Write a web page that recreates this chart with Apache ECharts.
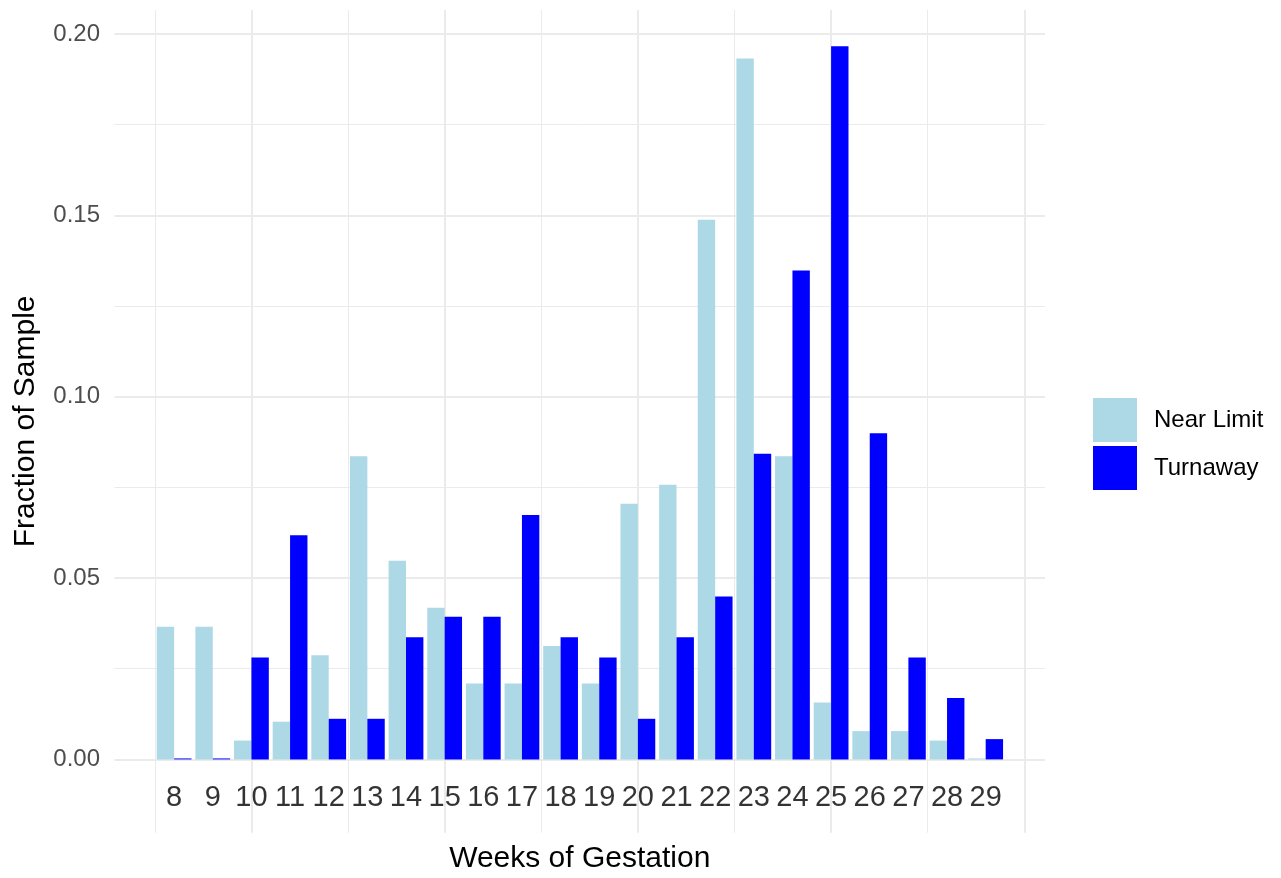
<!DOCTYPE html>
<html>
<head>
<meta charset="utf-8">
<title>Weeks of Gestation</title>
<script src="https://cdn.jsdelivr.net/npm/echarts@6.0.0/dist/echarts.min.js"></script>
<style>
  html, body { margin: 0; padding: 0; background: #fff; }
  #myChart { width: 1281px; height: 878px; }
</style>
</head>
<body>
<div id="myChart"></div>
<script>
// weeks of gestation and fraction of each sample
var weeks = [8, 9, 10, 11, 12, 13, 14, 15, 16, 17, 18, 19, 20, 21, 22, 23, 24, 25, 26, 27, 28, 29];
var nearLimit = [0.0366, 0.0366, 0.0052, 0.0104, 0.0287, 0.0836, 0.0548, 0.0418, 0.0209, 0.0209, 0.0313,
                 0.0209, 0.0705, 0.0757, 0.1488, 0.1932, 0.0836, 0.0157, 0.0078, 0.0078, 0.0052, 0];
var turnaway = [0, 0, 0.0281, 0.0618, 0.0112, 0.0112, 0.0337, 0.0393, 0.0393, 0.0674, 0.0337,
                0.0281, 0.0112, 0.0337, 0.0449, 0.0843, 0.1348, 0.1966, 0.0899, 0.0281, 0.0169, 0.0056];
var seriesNames = ['Near Limit', 'Turnaway'];

var font = 'Liberation Sans, Arial, sans-serif';
var labelY = -0.0105; // week numbers sit just under the zero line
var gridColor = '#ebebeb';

function pairs(values) {
    return weeks.map(function(w, i) { return [w, values[i]]; });
}

function drawChart() {
    var myChart = echarts.init(document.getElementById('myChart'));
    var option = {
        animation: false,
        backgroundColor: '#fff',
        textStyle: { fontFamily: font },
        grid: {
            left: 114.5,
            right: 236,
            top: 10,
            bottom: 45.3,
            outerBoundsMode: 'none'
        },
        legend: {
            data: seriesNames,
            orient: 'vertical',
            left: 1093,
            top: 398,
            padding: 0,
            itemWidth: 44,
            itemHeight: 44,
            itemGap: 4,
            icon: 'rect',
            selectedMode: false,
            textStyle: { fontSize: 24, color: '#000', fontFamily: font, padding: [0, 0, 0, 12] }
        },
        xAxis: {
            type: 'value',
            min: 6.457,
            max: 30.535,
            name: 'Weeks of Gestation',
            nameLocation: 'middle',
            nameGap: 11,
            nameTextStyle: { fontSize: 30, color: '#000', fontFamily: font },
            axisLine: { show: false },
            axisTick: { show: false },
            axisLabel: { show: false },
            splitLine: { show: true, showMinLine: false, showMaxLine: false, lineStyle: { color: gridColor, width: 2 } },
            minorTick: { show: false, splitNumber: 2 },
            minorSplitLine: { show: true, lineStyle: { color: gridColor, width: 1 } }
        },
        yAxis: {
            type: 'value',
            min: -0.0202,
            max: 0.2066,
            name: 'Fraction of Sample',
            nameLocation: 'middle',
            nameGap: 74,
            nameTextStyle: { fontSize: 30, color: '#000', fontFamily: font },
            axisLine: { show: false },
            axisTick: { show: false },
            axisLabel: {
                showMinLabel: false,
                showMaxLabel: false,
                margin: 14.5,
                fontSize: 24,
                color: '#4d4d4d',
                fontFamily: font,
                formatter: function(v) { return v.toFixed(2); }
            },
            splitLine: { show: true, showMinLine: false, showMaxLine: false, lineStyle: { color: gridColor, width: 2 } },
            minorTick: { show: false, splitNumber: 2 },
            minorSplitLine: { show: true, lineStyle: { color: gridColor, width: 1 } }
        },
        series: [{
            name: seriesNames[0],
            type: 'bar',
            data: pairs(nearLimit),
            barWidth: '45%',
            barGap: '0%',
            barMinHeight: 1,
            itemStyle: { color: '#ADD8E6' },
            silent: true
        }, {
            name: seriesNames[1],
            type: 'bar',
            data: pairs(turnaway),
            barWidth: '45%',
            barGap: '0%',
            barMinHeight: 1,
            itemStyle: { color: '#0000FF' },
            silent: true
        }, {
            name: 'weekLabels',
            type: 'scatter',
            data: weeks.map(function(w) { return [w, labelY]; }),
            symbolSize: 0,
            itemStyle: { color: '#000' },
            silent: true,
            label: {
                show: true,
                position: 'inside',
                fontSize: 29,
                color: '#000',
                textBorderWidth: 0,
                textBorderColor: 'transparent',
                fontFamily: font,
                formatter: function(p) { return String(p.value[0]); }
            }
        }]
    };
    myChart.setOption(option);
}

drawChart();
</script>
</body>
</html>
